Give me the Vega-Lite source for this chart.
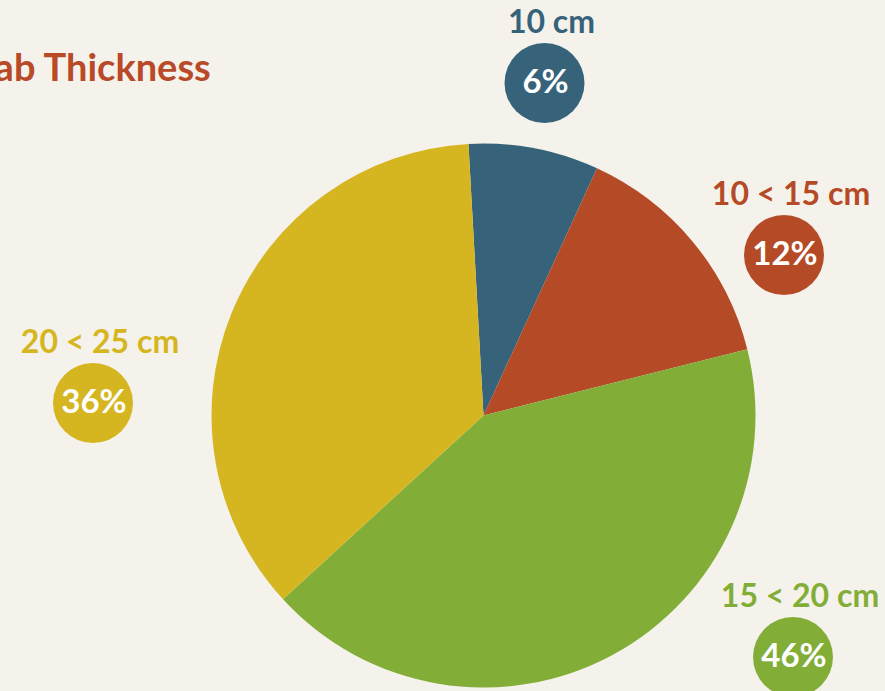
{
  "$schema": "https://vega.github.io/schema/vega-lite/v6.json",
  "width": 803,
  "height": 551,
  "autosize": {"type": "none"},
  "padding": {"left": 82, "top": 140, "right": 0, "bottom": 0},
  "background": "#f5f2eb",
  "config": {"view": {"stroke": null}, "font": "Lato"},
  "title": {
    "text": "Slab Thickness",
    "anchor": "start",
    "align": "right",
    "dx": 190,
    "offset": 0,
    "dy": 112,
    "baseline": "alphabetic",
    "fontSize": 38,
    "fontWeight": "bold",
    "color": "#b94a27",
    "font": "Lato"
  },
  "data": {
    "values": [
      {"category": "10 cm", "rank": 1, "share": 7.73, "pct": "6%", "label_x": 61, "label_y": 332.5},
      {"category": "10 < 15 cm", "rank": 2, "share": 14.23, "pct": "12%", "label_x": 300.5, "label_y": 160.5},
      {"category": "15 < 20 cm", "rank": 3, "share": 42.11, "pct": "46%", "label_x": 309.5, "label_y": -241.5},
      {"category": "20 < 25 cm", "rank": 4, "share": 35.93, "pct": "36%", "label_x": -390.5, "label_y": 12.5}
    ]
  },
  "layer": [
    {
      "mark": {"type": "arc", "outerRadius": 272, "strokeWidth": 0},
      "encoding": {
        "theta": {"field": "share", "type": "quantitative", "stack": true, "scale": {"range": [-0.0553, 6.2279]}},
        "order": {"field": "rank", "type": "quantitative"},
        "color": {
          "field": "category",
          "type": "nominal",
          "scale": {
            "domain": ["10 cm", "10 < 15 cm", "15 < 20 cm", "20 < 25 cm"],
            "range": ["#36637a", "#b54a26", "#82ae38", "#d5b620"]
          },
          "legend": null
        }
      }
    },
    {
      "mark": {"type": "point", "filled": true, "opacity": 1, "size": 6400, "shape": "circle", "strokeWidth": 0},
      "encoding": {
        "x": {"field": "label_x", "type": "quantitative", "scale": {"domain": [-401.5, 401.5], "nice": false, "zero": false}, "axis": null},
        "y": {"field": "label_y", "type": "quantitative", "scale": {"domain": [-275.5, 275.5], "nice": false, "zero": false}, "axis": null},
        "color": {"field": "category", "type": "nominal", "legend": null}
      }
    },
    {
      "mark": {"type": "text", "fontSize": 33, "fontWeight": "bold", "font": "Lato", "baseline": "alphabetic", "align": "center", "dy": 10, "dx": 1, "fill": "#ffffff"},
      "encoding": {
        "x": {"field": "label_x", "type": "quantitative"},
        "y": {"field": "label_y", "type": "quantitative"},
        "text": {"field": "pct", "type": "nominal"}
      }
    },
    {
      "mark": {"type": "text", "fontSize": 32, "fontWeight": "bold", "font": "Lato", "baseline": "alphabetic", "align": "center", "dy": -50, "dx": 7},
      "encoding": {
        "x": {"field": "label_x", "type": "quantitative"},
        "y": {"field": "label_y", "type": "quantitative"},
        "text": {"field": "category", "type": "nominal"},
        "color": {"field": "category", "type": "nominal", "legend": null}
      }
    }
  ]
}
